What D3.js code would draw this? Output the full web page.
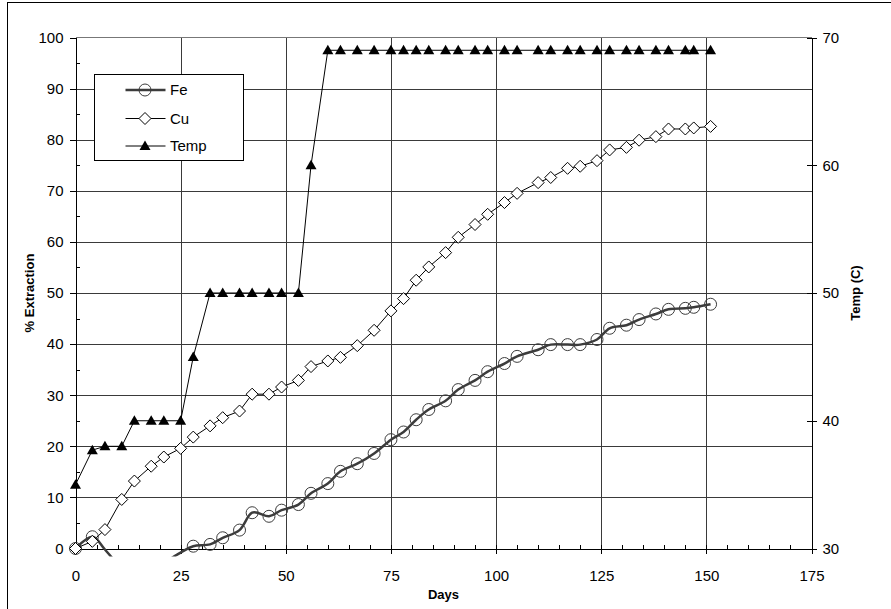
<!DOCTYPE html>
<html>
<head>
<meta charset="utf-8">
<script src="https://cdn.jsdelivr.net/npm/d3@7/dist/d3.min.js"></script>
<style>
  html, body { margin: 0; padding: 0; background: #fff; }
  svg { display: block; }
  text { font-family: "Liberation Sans", Arial, sans-serif; fill: #000; }
</style>
</head>
<body>
<svg id="chart" width="891" height="609"></svg>
<script>
// ---- Data ----
const days = [0,4,7,11,14,18,21,25,28,32,35,39,42,46,49,53,56,60,63,67,71,75,78,81,84,88,91,95,98,102,105,110,113,117,120,124,127,131,134,138,141,145,147,151];
const fe = [0,2.3,-0.2,-4,-6,-6,-3,-0.8,0.45,0.8,2.1,3.6,7.0,6.3,7.5,8.6,10.8,12.7,15.1,16.6,18.6,21.3,22.8,25.2,27.2,28.9,31.1,32.9,34.6,36.2,37.6,38.9,39.9,39.9,39.9,40.9,43.1,43.7,44.8,45.9,46.8,47.0,47.2,47.8];
const cu = [0,1.4,3.7,9.6,13.2,16.1,17.9,19.6,21.8,24.0,25.6,26.9,30.2,30.2,31.6,32.9,35.6,36.7,37.4,39.7,42.7,46.5,48.9,52.5,55.1,57.9,60.9,63.4,65.4,67.7,69.5,71.6,72.6,74.4,74.8,75.9,78.0,78.5,79.9,80.6,82.1,82.1,82.3,82.6];
const temp = [35,37.7,38,38,40,40,40,40,45,50,50,50,50,50,50,50,60,69,69,69,69,69,69,69,69,69,69,69,69,69,69,69,69,69,69,69,69,69,69,69,69,69,69,69];
const xTicks = [0,25,50,75,100,125,150,175];
const xMinor = d3.range(0,176,5);
const yTicks = [0,10,20,30,40,50,60,70,80,90,100];
const yMinor = d3.range(5,100,10);
const tTicks = [30,40,50,60,70];
const seriesNames = ["Fe","Cu","Temp"];

// ---- Layout ----
const svg = d3.select("#chart");
const L = 75.5, R = 811.5, T = 37.5, B = 548.5;
const x = d3.scaleLinear().domain([0,175]).range([L,R]);
const y = d3.scaleLinear().domain([0,100]).range([B,T]);
const yT = d3.scaleLinear().domain([30,70]).range([B,T]);
const gridColor = "#3a3a3a";

// outer frame
svg.append("rect").attr("x",7.5).attr("y",2.5).attr("width",900).attr("height",620)
  .attr("fill","none").attr("stroke","#000").attr("stroke-width",1);

// plot area top border
svg.append("line").attr("x1",L).attr("x2",R).attr("y1",T).attr("y2",T)
  .attr("stroke","#777").attr("shape-rendering","crispEdges");

// gridlines
const grid = svg.append("g").attr("shape-rendering","crispEdges").attr("stroke",gridColor).attr("stroke-width",1);
grid.selectAll("line.h").data(yTicks.filter(v=>v>0 && v<100)).join("line")
  .attr("x1",L).attr("x2",R).attr("y1",d=>Math.round(y(d))+0.5).attr("y2",d=>Math.round(y(d))+0.5);
grid.selectAll("line.v").data(xTicks.filter(v=>v>0 && v<175)).join("line")
  .attr("y1",T).attr("y2",B).attr("x1",d=>Math.round(x(d))+0.5).attr("x2",d=>Math.round(x(d))+0.5);

// axes
const fontSize = "15px";
const axB = svg.append("g").attr("transform",`translate(0,${B})`)
  .call(d3.axisBottom(x).tickValues(xTicks).tickSizeInner(5).tickSizeOuter(0).tickPadding(17));
svg.append("g").attr("transform",`translate(0,${B})`)
  .call(d3.axisBottom(x).tickValues(xMinor).tickSizeInner(-4).tickSizeOuter(0).tickFormat(""));
const axL = svg.append("g").attr("transform",`translate(${L},0)`)
  .call(d3.axisLeft(y).tickValues(yTicks).tickSizeInner(6).tickSizeOuter(0).tickPadding(6));
svg.append("g").attr("transform",`translate(${L},0)`)
  .call(d3.axisLeft(y).tickValues(yMinor).tickSizeInner(-4).tickSizeOuter(0).tickFormat(""));
const axR = svg.append("g").attr("transform",`translate(${R},0)`)
  .call(d3.axisRight(yT).tickValues(tTicks).tickSizeInner(5).tickSizeOuter(0).tickPadding(6));
svg.append("g").attr("transform",`translate(${R},0)`)
  .call(d3.axisLeft(yT).tickValues(tTicks).tickSizeInner(5).tickSizeOuter(0).tickFormat(""));
svg.selectAll(".domain").attr("stroke","#000").attr("shape-rendering","crispEdges");
svg.selectAll(".tick line").attr("stroke","#000").attr("shape-rendering","crispEdges");
svg.selectAll(".tick text").attr("font-family","Liberation Sans, Arial, sans-serif").attr("font-size",fontSize).attr("fill","#000");

// axis titles
svg.append("text").attr("x",(L+R)/2).attr("y",599).attr("text-anchor","middle")
  .attr("font-weight","bold").attr("font-size","13px").text("Days");
svg.append("text").attr("transform",`translate(34,${(T+B)/2}) rotate(-90)`).attr("text-anchor","middle")
  .attr("font-weight","bold").attr("font-size","13px").text("% Extraction");
svg.append("text").attr("transform",`translate(860,${(T+B)/2}) rotate(-90)`).attr("text-anchor","middle")
  .attr("font-weight","bold").attr("font-size","13px").text("Temp (C)");

// clip for lines
const defs = svg.append("defs");
defs.append("clipPath").attr("id","clipLine").append("rect")
  .attr("x",L).attr("y",T-8).attr("width",R-L).attr("height",B-T+16);

const feData = days.map((d,i)=>({d, v:fe[i]}));
const cuData = days.map((d,i)=>({d, v:cu[i]}));
const tData = days.map((d,i)=>({d, v:temp[i]}));

// Temp line
svg.append("path").datum(tData).attr("clip-path","url(#clipLine)")
  .attr("fill","none").attr("stroke","#000").attr("stroke-width",1)
  .attr("d", d3.line().x(p=>x(p.d)).y(p=>yT(p.v)));
// Cu line
svg.append("path").datum(cuData).attr("clip-path","url(#clipLine)")
  .attr("fill","none").attr("stroke","#000").attr("stroke-width",1)
  .attr("d", d3.line().x(p=>x(p.d)).y(p=>y(p.v)));
// Fe smoothed line
svg.append("path").datum(feData).attr("clip-path","url(#clipLine)")
  .attr("fill","none").attr("stroke","#3c3c3c").attr("stroke-width",2.5)
  .attr("d", d3.line().curve(d3.curveCardinal.tension(0)).x(p=>x(p.d)).y(p=>y(p.v)));

// markers (only points inside the axis range are drawn)
const inRange = p => p.v >= 0 && p.v <= 100;
const triPath = "M0,-5.5L5.5,4L-5.5,4Z";
const diaPath = "M0,-6L6,0L0,6L-6,0Z";

svg.append("g").selectAll("circle").data(feData.filter(inRange)).join("circle")
  .attr("cx",p=>x(p.d)).attr("cy",p=>y(p.v)).attr("r",6)
  .attr("fill","none").attr("stroke","#3c3c3c").attr("stroke-width",1);
svg.append("g").selectAll("path").data(cuData.filter(inRange)).join("path")
  .attr("transform",p=>`translate(${x(p.d)},${y(p.v)})`).attr("d",diaPath)
  .attr("fill","#fff").attr("stroke","#000").attr("stroke-width",1);
svg.append("g").selectAll("path").data(tData).join("path")
  .attr("transform",p=>`translate(${x(p.d)},${yT(p.v)})`).attr("d",triPath)
  .attr("fill","#000");

// legend
const lg = svg.append("g");
lg.append("rect").attr("x",94.5).attr("y",74.5).attr("width",149).attr("height",86)
  .attr("fill","#fff").attr("stroke","#000").attr("stroke-width",1).attr("shape-rendering","crispEdges");
const ly = [90,118.5,146];
seriesNames.forEach((name,i)=>{
  const g = lg.append("g").attr("transform",`translate(0,${ly[i]})`);
  g.append("line").attr("x1",125.5).attr("x2",165.5).attr("y1",0).attr("y2",0)
    .attr("stroke", i===0 ? "#3c3c3c" : "#000").attr("stroke-width", i===0 ? 2.5 : 1);
  if (i===0) g.append("circle").attr("cx",145).attr("cy",0).attr("r",6).attr("fill","none").attr("stroke","#3c3c3c");
  if (i===1) g.append("path").attr("transform","translate(145,0)").attr("d",diaPath).attr("fill","#fff").attr("stroke","#000");
  if (i===2) g.append("path").attr("transform","translate(145,0)").attr("d",triPath).attr("fill","#000");
  g.append("text").attr("x",170).attr("y",0).attr("dy","0.35em").attr("font-size","15px").text(name);
});
</script>
</body>
</html>
